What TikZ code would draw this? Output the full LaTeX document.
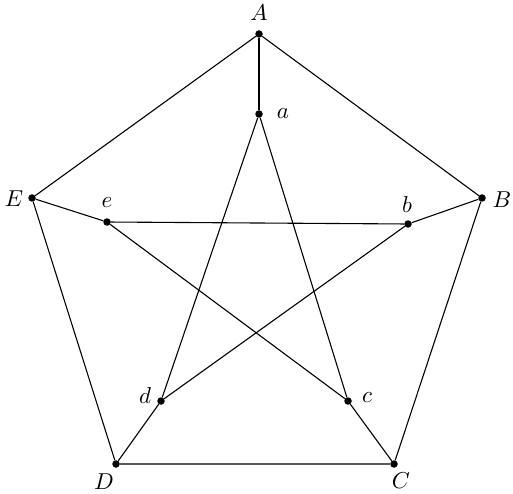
\documentclass[tikz,border=0pt]{standalone}
\begin{document}
\begin{tikzpicture}[x=1pt,y=-1pt,
  vtx/.style={circle,fill=black,inner sep=0pt,minimum size=7.5pt},
  lbl/.style={scale=2.3,inner sep=0.5pt},
  edge/.style={line width=1.1pt}]
\useasboundingbox (0,0) rectangle (513,494);
\node[vtx] (A) at (259,34) {};
\node[vtx] (B) at (482,198) {};
\node[vtx] (C) at (394,464) {};
\node[vtx] (D) at (116,464) {};
\node[vtx] (E) at (32,198) {};
\node[vtx] (a) at (259,114) {};
\node[vtx] (b) at (408,224) {};
\node[vtx] (c) at (348,401) {};
\node[vtx] (d) at (161,401) {};
\node[vtx] (e) at (107,222) {};
\node[lbl] (lA) at (259,13) {$A$};
\node[lbl] (lB) at (502,200) {$B$};
\node[lbl] (lC) at (401,481) {$C$};
\node[lbl] (lD) at (104,482) {$D$};
\node[lbl] (lE) at (14,199) {$E$};
\node[lbl] (la) at (283,114) {$a$};
\node[lbl] (lb) at (407,205) {$b$};
\node[lbl] (lc) at (367,398) {$c$};
\node[lbl] (ld) at (145,396) {$d$};
\node[lbl] (le) at (107,203) {$e$};
\draw[edge] (A) -- (B) -- (C) -- (D) -- (E) -- (A);
\draw[edge] (A) -- (a);
\draw[edge] (B) -- (b);
\draw[edge] (C) -- (c);
\draw[edge] (D) -- (d);
\draw[edge] (E) -- (e);
\draw[edge] (a) -- (c);
\draw[edge] (a) -- (d);
\draw[edge] (b) -- (d);
\draw[edge] (b) -- (e);
\draw[edge] (c) -- (e);
\end{tikzpicture}
\end{document}
